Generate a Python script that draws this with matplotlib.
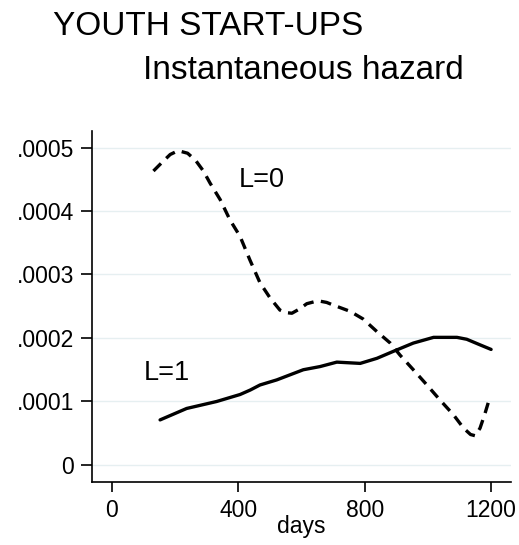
import matplotlib
matplotlib.use("Agg")
import matplotlib.pyplot as plt

plt.rcParams['font.family'] = ['Liberation Sans', 'DejaVu Sans']

# L=0 (dashed) instantaneous hazard
days_l0 = [132, 160, 185, 210, 240, 265, 290, 311, 343, 374, 406, 437, 469, 501,
           532, 550, 570, 595, 617, 640, 659, 680, 700, 754, 795, 839, 881, 912,
           954, 997, 1039, 1081, 1113, 1135, 1150, 1165, 1180, 1197]
haz_l0 = [4.63, 4.77, 4.89, 4.95, 4.91, 4.80, 4.63, 4.44, 4.18, 3.86, 3.60, 3.23,
          2.87, 2.63, 2.44, 2.40, 2.39, 2.46, 2.54, 2.57, 2.58, 2.56, 2.52, 2.42,
          2.30, 2.10, 1.92, 1.73, 1.50, 1.26, 1.02, 0.79, 0.58, 0.48, 0.46, 0.58,
          0.80, 1.08]
haz_l0 = [v * 1e-4 for v in haz_l0]

# L=1 (solid) instantaneous hazard
days_l1 = [153, 237, 332, 406, 438, 469, 522, 606, 659, 712, 786, 839, 891, 954,
           1018, 1092, 1123, 1166, 1200]
haz_l1 = [0.71, 0.89, 1.00, 1.11, 1.18, 1.26, 1.34, 1.50, 1.55, 1.62, 1.60, 1.68,
          1.79, 1.92, 2.01, 2.01, 1.98, 1.89, 1.82]
haz_l1 = [v * 1e-4 for v in haz_l1]

yticks = [0, 0.0001, 0.0002, 0.0003, 0.0004, 0.0005]
ytick_labels = ['0', '.0001', '.0002', '.0003', '.0004', '.0005']
xticks = [0, 400, 800, 1200]
xtick_labels = ['0', '400', '800', '1200']

fig = plt.figure(figsize=(5.19, 5.45), dpi=100)
ax = fig.add_axes([92.3 / 519, (545 - 482) / 545, (510.7 - 92.3) / 519, (482 - 131) / 545])

for y in yticks:
    ax.axhline(y, color='#e6eff1', lw=1.0, zorder=0)

ax.plot(days_l0, haz_l0, color='black', lw=2.4, dashes=(3.2, 2.2),
        dash_capstyle='butt', solid_joinstyle='round')
ax.plot(days_l1, haz_l1, color='black', lw=2.4, solid_capstyle='round',
        solid_joinstyle='round')

ax.text(475, 4.49e-4, 'L=0', fontsize=19.5, ha='center', va='center')
ax.text(174, 1.45e-4, 'L=1', fontsize=19.5, ha='center', va='center')

ax.set_xlim(-61.4, 1262)
ax.set_ylim(-0.0000268, 0.000526)
ax.set_xticks(xticks)
ax.set_xticklabels(xtick_labels)
ax.set_yticks(yticks)
ax.set_yticklabels(ytick_labels)
ax.tick_params(axis='x', direction='out', length=7.2, width=1.2, pad=5, labelsize=16.5)
ax.tick_params(axis='y', direction='out', length=8, width=1.2, pad=5, labelsize=16.5)

for s in ['top', 'right']:
    ax.spines[s].set_visible(False)
for s in ['left', 'bottom']:
    ax.spines[s].set_linewidth(1.2)

ax.set_xlabel('days', fontsize=16.5)
ax.xaxis.set_label_coords(0.5, -0.0926)

fig.text(53 / 519, (545 - 35) / 545, 'YOUTH START-UPS', fontsize=24, ha='left', va='baseline')
fig.text(303.5 / 519, (545 - 79) / 545, 'Instantaneous hazard', fontsize=24, ha='center', va='baseline')

fig.savefig('out.png', dpi=100)
